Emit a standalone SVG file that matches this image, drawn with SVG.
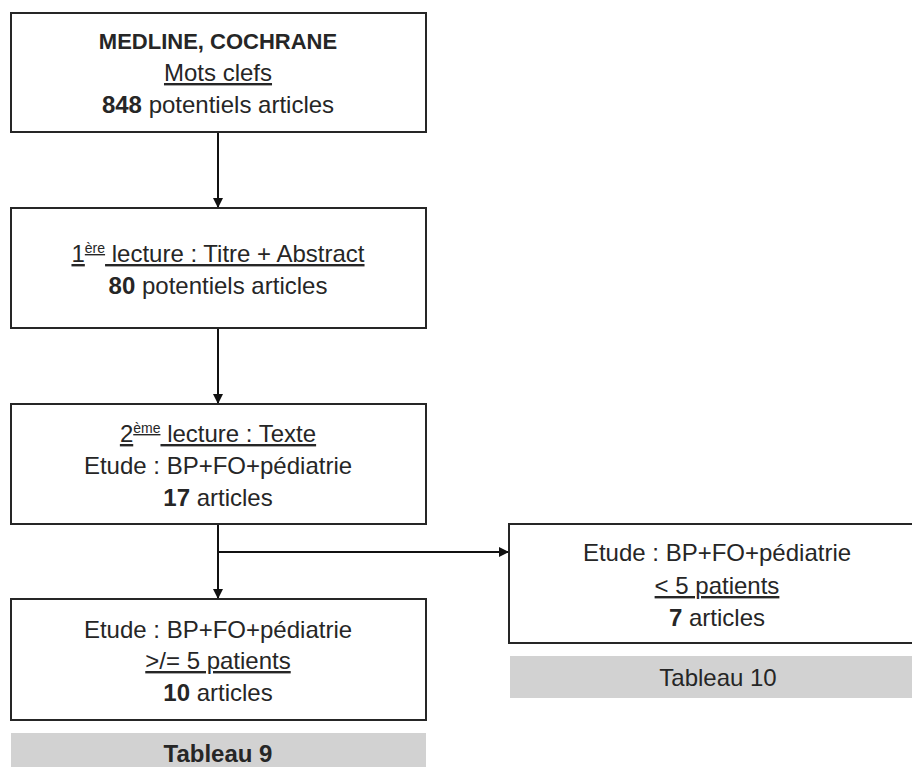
<svg xmlns="http://www.w3.org/2000/svg" width="912" height="767" viewBox="0 0 912 767">
<style>
.box{fill:#fff;stroke:#262626;stroke-width:2}
.tab{fill:#d2d2d2;stroke:none}
text{font-family:"Liberation Sans",Arial,sans-serif;font-size:24px;fill:#262626;text-anchor:middle}
.b{font-weight:bold}
.bb{font-weight:bold;font-size:22px}
.u{text-decoration:underline}
.sup{font-size:14px}
.conn{stroke:#111;stroke-width:2;fill:none}
</style>
<defs>
<marker id="arr" viewBox="0 0 10 10" refX="9" refY="5" markerWidth="5" markerHeight="5" orient="auto" markerUnits="strokeWidth">
<path d="M0,0 L10,5 L0,10 z" fill="#111"/>
</marker>
</defs>
<rect width="912" height="767" fill="#fff"/>
<g id="connectors">
<line class="conn" x1="218" y1="132" x2="218" y2="207" marker-end="url(#arr)"/>
<line class="conn" x1="218" y1="328" x2="218" y2="403" marker-end="url(#arr)"/>
<line class="conn" x1="218" y1="524" x2="218" y2="598" marker-end="url(#arr)"/>
<line class="conn" x1="218" y1="552" x2="508" y2="552" marker-end="url(#arr)"/>
</g>
<g id="n1">
<rect class="box" x="11" y="13" width="415" height="119"/>
<text x="218" y="49" class="bb">MEDLINE, COCHRANE</text>
<text x="218" y="81" class="u">Mots clefs</text>
<text x="218" y="113"><tspan class="b">848</tspan> potentiels articles</text>
</g>
<g id="n2">
<rect class="box" x="11" y="208" width="415" height="120"/>
<text x="218" y="262" class="u">1<tspan class="sup" dy="-9">ère</tspan><tspan dy="9"> lecture : Titre + Abstract</tspan></text>
<text x="218" y="294"><tspan class="b">80</tspan> potentiels articles</text>
</g>
<g id="n3">
<rect class="box" x="11" y="404" width="415" height="120"/>
<text x="218" y="442" class="u">2<tspan class="sup" dy="-9">ème</tspan><tspan dy="9"> lecture : Texte</tspan></text>
<text x="218" y="474">Etude : BP+FO+pédiatrie</text>
<text x="218" y="506"><tspan class="b">17</tspan> articles</text>
</g>
<g id="n4">
<rect class="box" x="509" y="524" width="417" height="119"/>
<text x="717" y="561">Etude : BP+FO+pédiatrie</text>
<text x="717" y="594" class="u">&lt; 5 patients</text>
<text x="717" y="626"><tspan class="b">7</tspan> articles</text>
</g>
<g id="t10">
<rect class="tab" x="510" y="656" width="416" height="42"/>
<text x="718" y="686">Tableau 10</text>
</g>
<g id="n5">
<rect class="box" x="11" y="599" width="415" height="121"/>
<text x="218" y="638">Etude : BP+FO+pédiatrie</text>
<text x="218" y="669" class="u">&gt;/= 5 patients</text>
<text x="218" y="701"><tspan class="b">10</tspan> articles</text>
</g>
<g id="t9">
<rect class="tab" x="11" y="733" width="415" height="40"/>
<text x="218" y="762" class="b">Tableau 9</text>
</g>
</svg>
